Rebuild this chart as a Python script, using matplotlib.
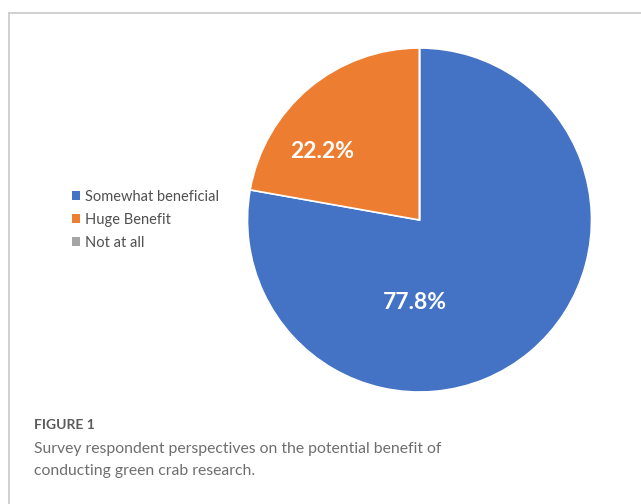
import numpy as np
import matplotlib
matplotlib.use("Agg")
import matplotlib.pyplot as plt
from matplotlib.patches import Rectangle

# Data
categories = ["Somewhat beneficial", "Huge Benefit", "Not at all"]
shares = [77.8, 22.2, 0.0]
colors = ["#4472C4", "#ED7D31", "#A5A5A5"]
# label placement (radius fraction, angle in degrees) as in the source chart
label_pos = [(0.48, 267), (0.69, 145), None]

caption_head = "FIGURE 1"
caption_body = ("Survey respondent perspectives on the potential benefit of\n"
                "conducting green crab research.")

plt.rcParams["font.family"] = ["Lato", "DejaVu Sans"]

W, H = 641, 504
fig = plt.figure(figsize=(W / 100, H / 100), dpi=100)
fig.patch.set_facecolor("white")

# light frame around the figure panel (left and top edges)
fig.add_artist(plt.Line2D([9 / W, 9 / W], [0, 1 - 13 / H], transform=fig.transFigure,
                          color="#c8c8c8", lw=1.2))
fig.add_artist(plt.Line2D([9 / W, 1], [1 - 13 / H, 1 - 13 / H], transform=fig.transFigure,
                          color="#c8c8c8", lw=1.2))

# pie axes
cx, cy, r = 419.5, 220, 172
ax = fig.add_axes([(cx - r) / W, (H - cy - r) / H, 2 * r / W, 2 * r / H])
wedges, _ = ax.pie(shares, colors=colors, startangle=90, counterclock=False,
                   radius=1, wedgeprops=dict(edgecolor="white", linewidth=1.2))
ax.set_xlim(-1, 1)
ax.set_ylim(-1, 1)
ax.set_aspect("equal")
ax.axis("off")

for v, pos in zip(shares, label_pos):
    if pos is None or v == 0:
        continue
    rr, ang = pos
    a = np.deg2rad(ang)
    ax.text(rr * np.cos(a), rr * np.sin(a), f"{v:.1f}%", color="white",
            fontsize=16.5, fontweight="bold", ha="center", va="center")

# legend on the left
handles = [Rectangle((0, 0), 1, 1, facecolor=c, edgecolor="none") for c in colors]
fig.legend(handles, categories, loc="center left",
           bbox_to_anchor=(59 / W, 1 - 220 / H), frameon=False,
           fontsize=10.5, handlelength=0.55, handleheight=0.55, handletextpad=0.35,
           labelspacing=0.62, labelcolor="#505050")

# caption
fig.text(34 / W, 1 - 425 / H, caption_head, fontsize=10, fontweight="bold",
         color="#5a5a5a", va="center", ha="left")
fig.text(34 / W, 1 - 460 / H, caption_body, fontsize=11.3, color="#6e6e6e",
         va="center", ha="left", linespacing=1.68)

fig.savefig("out.png", dpi=100, facecolor="white")
